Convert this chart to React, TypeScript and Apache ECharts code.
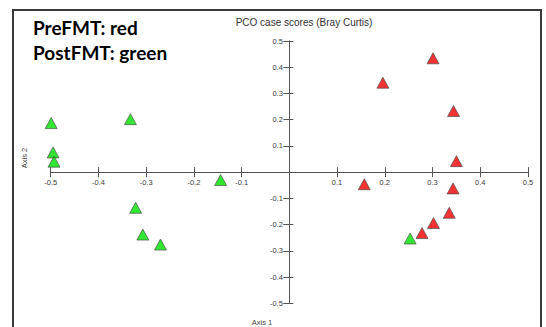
import React, { useEffect, useRef } from 'react';
import * as echarts from 'echarts';

// PCO axis 1 / axis 2 scores
const preFMT: [number, number][] = [
  [0.301, 0.434],
  [0.196, 0.341],
  [0.344, 0.233],
  [0.35, 0.042],
  [0.157, -0.046],
  [0.343, -0.062],
  [0.335, -0.155],
  [0.302, -0.194],
  [0.278, -0.232],
];
const postFMT: [number, number][] = [
  [-0.499, 0.187],
  [-0.495, 0.075],
  [-0.493, 0.04],
  [-0.333, 0.202],
  [-0.144, -0.03],
  [-0.322, -0.136],
  [-0.307, -0.238],
  [-0.27, -0.276],
  [0.253, -0.253],
];
const axisMin = -0.5;
const axisMax = 0.5;
const axisStep = 0.1;

const titleText = 'PCO case scores (Bray Curtis)';
const legendLines = ['PreFMT: red', 'PostFMT: green'];

const fmt = (v: number) => (Math.abs(v) < 1e-9 ? '' : v.toFixed(1));

const W = 546;
const H = 327;
const G = { left: 50.7, right: 18, top: 41, bottom: 23.7 };

export default function App() {
  const ref = useRef<HTMLDivElement>(null);
  useEffect(() => {
    if (!ref.current) return;
    const chart = echarts.init(ref.current, null, { renderer: 'svg' });
    const lineColor = '#555';
    const labelColor = '#3c3c3c';
    const plotW = W - G.left - G.right;
    const plotH = H - G.top - G.bottom;
    const zeroX = G.left + plotW / 2;
    const zeroY = G.top + plotH / 2;

    const axis = (gridIndex: number, extra: any) => ({
      type: 'value',
      gridIndex,
      min: axisMin,
      max: axisMax,
      interval: axisStep,
      splitLine: { show: false },
      axisLine: { show: true, onZero: false, lineStyle: { color: lineColor, width: 1 } },
      axisTick: { show: true, lineStyle: { color: lineColor } },
      ...extra,
    });
    const hidden = (gridIndex: number) => axis(gridIndex, { show: false });

    chart.setOption({
      animation: false,
      backgroundColor: '#fff',
      grid: [
        // data grid
        { left: G.left, right: G.right, top: G.top, bottom: G.bottom },
        // x axis drawn along y = 0 : labels and downward ticks
        { left: G.left, right: G.right, top: G.top, height: zeroY - G.top },
        // x axis upward ticks
        { left: G.left, right: G.right, top: zeroY, bottom: G.bottom },
        // y axis drawn along x = 0 : labels and leftward ticks
        { left: zeroX, right: G.right, top: G.top, bottom: G.bottom },
        // y axis rightward ticks
        { left: G.left, width: zeroX - G.left, top: G.top, bottom: G.bottom },
      ],
      xAxis: [
        hidden(0),
        axis(1, {
          position: 'bottom',
          axisTick: { show: true, length: 5, lineStyle: { color: lineColor } },
          axisLabel: {
            color: labelColor,
            fontSize: 7.5,
            fontFamily: 'Liberation Sans',
            margin: 6,
            formatter: fmt,
            showMinLabel: true,
            showMaxLabel: true,
          },
        }),
        axis(2, {
          position: 'top',
          axisTick: { show: true, length: 5, lineStyle: { color: lineColor } },
          axisLabel: { show: false },
        }),
        hidden(3),
        hidden(4),
      ],
      yAxis: [
        hidden(0),
        hidden(1),
        hidden(2),
        axis(3, {
          position: 'left',
          axisTick: { show: true, length: 6, lineStyle: { color: lineColor } },
          axisLabel: {
            color: labelColor,
            fontSize: 7.5,
            fontFamily: 'Liberation Sans',
            margin: 6.5,
            formatter: fmt,
            showMinLabel: true,
            showMaxLabel: true,
          },
        }),
        axis(4, {
          position: 'right',
          axisTick: { show: true, length: 4, lineStyle: { color: lineColor } },
          axisLabel: { show: false },
        }),
      ],
      series: [
        {
          name: 'PreFMT',
          type: 'scatter',
          xAxisIndex: 0,
          yAxisIndex: 0,
          data: preFMT,
          symbol: 'triangle',
          symbolSize: [12, 11],
          z: 5,
          itemStyle: { color: '#f00000', borderColor: '#444', borderWidth: 0.8 },
        },
        {
          name: 'PostFMT',
          type: 'scatter',
          xAxisIndex: 0,
          yAxisIndex: 0,
          data: postFMT,
          symbol: 'triangle',
          symbolSize: [12, 11],
          z: 5,
          itemStyle: { color: '#00e000', borderColor: '#444', borderWidth: 0.8 },
        },
      ],
      graphic: [
        {
          type: 'rect',
          shape: { x: 13, y: 10, width: 528, height: 330 },
          style: { fill: 'none', stroke: '#3a3a3a', lineWidth: 2 },
          z: 10,
        },
        {
          type: 'text',
          x: 304,
          y: 22,
          style: {
            text: titleText,
            fill: '#333',
            font: '10px "Liberation Sans"',
            textAlign: 'center',
            textVerticalAlign: 'middle',
          },
        },
        {
          type: 'text',
          x: 33,
          y: 36.5,
          style: {
            text: legendLines[0],
            fill: '#000',
            font: 'bold 19px Lato',
            textAlign: 'left',
            textVerticalAlign: 'bottom',
          },
        },
        {
          type: 'text',
          x: 33,
          y: 61.5,
          style: {
            text: legendLines[1],
            fill: '#000',
            font: 'bold 19px Lato',
            textAlign: 'left',
            textVerticalAlign: 'bottom',
          },
        },
        {
          type: 'text',
          x: 24,
          y: 158,
          rotation: Math.PI / 2,
          style: {
            text: 'Axis 2',
            fill: '#444',
            font: '7.5px "Liberation Sans"',
            textAlign: 'center',
            textVerticalAlign: 'middle',
          },
        },
        {
          type: 'text',
          x: 262,
          y: 322,
          style: {
            text: 'Axis 1',
            fill: '#444',
            font: '7.5px "Liberation Sans"',
            textAlign: 'center',
            textVerticalAlign: 'middle',
          },
        },
      ],
    });
    return () => chart.dispose();
  }, []);
  return (
    <div
      ref={ref}
      style={{ position: 'fixed', left: 0, top: 0, width: W, height: H, background: '#fff' }}
    />
  );
}
